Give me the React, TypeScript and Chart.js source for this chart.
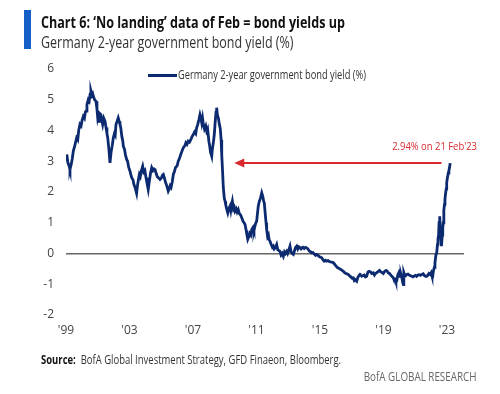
import React, { useEffect, useRef } from "react";
import { Chart, registerables } from "chart.js";

Chart.register(...registerables);

// ---- data ----
const years: number[] = [
  1999.00, 1999.05, 1999.12, 1999.20, 1999.25, 1999.33, 1999.40, 1999.46, 1999.55, 1999.62,
  1999.67, 1999.74, 1999.80, 1999.88, 1999.95, 2000.02, 2000.09, 2000.16, 2000.22, 2000.26,
  2000.32, 2000.40, 2000.46, 2000.52, 2000.57, 2000.63, 2000.68, 2000.72, 2000.80, 2000.89,
  2000.95, 2001.00, 2001.03, 2001.08, 2001.13, 2001.19, 2001.25, 2001.31, 2001.38, 2001.46,
  2001.52, 2001.58, 2001.63, 2001.70, 2001.77, 2001.84, 2001.91, 2001.98, 2002.05, 2002.10,
  2002.15, 2002.22, 2002.29, 2002.35, 2002.40, 2002.45, 2002.52, 2002.58, 2002.61, 2002.68,
  2002.75, 2002.82, 2002.88, 2002.95, 2003.02, 2003.08, 2003.15, 2003.22, 2003.28, 2003.35,
  2003.40, 2003.45, 2003.50, 2003.56, 2003.62, 2003.68, 2003.75, 2003.83, 2003.90, 2003.97,
  2004.04, 2004.10, 2004.18, 2004.25, 2004.32, 2004.40, 2004.48, 2004.55, 2004.61, 2004.68,
  2004.75, 2004.85, 2004.92, 2005.00, 2005.08, 2005.13, 2005.20, 2005.28, 2005.35, 2005.44,
  2005.50, 2005.56, 2005.62, 2005.70, 2005.76, 2005.82, 2005.90, 2006.00, 2006.07, 2006.15,
  2006.25, 2006.32, 2006.39, 2006.48, 2006.55, 2006.62, 2006.70, 2006.78, 2006.86, 2006.94,
  2007.02, 2007.10, 2007.17, 2007.23, 2007.30, 2007.37, 2007.44, 2007.50, 2007.55, 2007.60,
  2007.65, 2007.72, 2007.80, 2007.86, 2007.92, 2008.00, 2008.05, 2008.10, 2008.18, 2008.22,
  2008.28, 2008.34, 2008.40, 2008.45, 2008.49, 2008.54, 2008.60, 2008.66, 2008.72, 2008.77,
  2008.81, 2008.86, 2008.91, 2008.97, 2009.02, 2009.06, 2009.12, 2009.19, 2009.25, 2009.33,
  2009.38, 2009.44, 2009.48, 2009.55, 2009.60, 2009.65, 2009.72, 2009.78, 2009.85, 2009.92,
  2010.00, 2010.07, 2010.15, 2010.22, 2010.28, 2010.35, 2010.40, 2010.45, 2010.52, 2010.58,
  2010.64, 2010.70, 2010.78, 2010.84, 2010.90, 2010.96, 2011.01, 2011.06, 2011.11, 2011.18,
  2011.25, 2011.33, 2011.40, 2011.45, 2011.49, 2011.55, 2011.60, 2011.64, 2011.70, 2011.75,
  2011.79, 2011.85, 2011.92, 2012.00, 2012.06, 2012.12, 2012.20, 2012.27, 2012.34, 2012.40,
  2012.48, 2012.55, 2012.62, 2012.69, 2012.76, 2012.82, 2012.90, 2012.96, 2013.03, 2013.11,
  2013.18, 2013.25, 2013.32, 2013.40, 2013.46, 2013.53, 2013.60, 2013.66, 2013.72, 2013.80,
  2013.85, 2013.92, 2014.00, 2014.08, 2014.16, 2014.24, 2014.32, 2014.40, 2014.48, 2014.56,
  2014.64, 2014.72, 2014.79, 2014.86, 2014.95, 2015.03, 2015.11, 2015.18, 2015.26, 2015.34,
  2015.42, 2015.50, 2015.58, 2015.66, 2015.75, 2015.84, 2015.92, 2016.00, 2016.08, 2016.15,
  2016.23, 2016.31, 2016.39, 2016.47, 2016.55, 2016.63, 2016.70, 2016.78, 2016.86, 2016.94,
  2017.02, 2017.10, 2017.16, 2017.22, 2017.31, 2017.38, 2017.45, 2017.52, 2017.58, 2017.63,
  2017.70, 2017.78, 2017.86, 2017.94, 2018.02, 2018.10, 2018.18, 2018.26, 2018.36, 2018.43,
  2018.50, 2018.58, 2018.67, 2018.75, 2018.83, 2018.91, 2018.99, 2019.08, 2019.16, 2019.24,
  2019.30, 2019.38, 2019.46, 2019.54, 2019.62, 2019.68, 2019.74, 2019.78, 2019.83, 2019.90,
  2019.97, 2020.04, 2020.10, 2020.16, 2020.21, 2020.25, 2020.28, 2020.33, 2020.40, 2020.46,
  2020.54, 2020.62, 2020.70, 2020.78, 2020.86, 2020.94, 2021.02, 2021.09, 2021.17, 2021.25,
  2021.33, 2021.41, 2021.50, 2021.58, 2021.65, 2021.72, 2021.80, 2021.86, 2021.93, 2022.00,
  2022.05, 2022.10, 2022.15, 2022.20, 2022.24, 2022.30, 2022.35, 2022.40, 2022.43, 2022.47,
  2022.50, 2022.54, 2022.57, 2022.61, 2022.65, 2022.70, 2022.73, 2022.76, 2022.80, 2022.84,
  2022.87, 2022.91, 2022.95, 2022.98, 2023.02, 2023.08, 2023.12, 2023.16, 2023.20,
];

const yields: number[] = [
  3.05, 3.22, 2.95, 2.85, 2.73, 2.90, 3.10, 3.33, 3.50, 3.65,
  3.76, 3.70, 4.00, 4.20, 4.15, 4.35, 4.46, 4.40, 4.60, 4.63,
  4.85, 5.00, 4.95, 5.18, 5.28, 5.15, 5.20, 5.12, 5.00, 4.95,
  4.70, 4.40, 4.46, 4.30, 4.55, 4.52, 4.35, 4.20, 4.40, 4.30,
  4.10, 3.90, 3.76, 3.40, 2.95, 3.30, 3.50, 3.76, 3.90, 3.85,
  4.20, 4.30, 4.41, 4.30, 4.20, 4.09, 3.80, 3.65, 3.49, 3.40,
  3.20, 3.06, 3.00, 2.80, 2.70, 2.57, 2.45, 2.40, 2.24, 2.15,
  2.05, 1.97, 2.20, 2.40, 2.57, 2.50, 2.70, 2.84, 2.65, 2.70,
  2.46, 2.30, 2.08, 2.35, 2.60, 2.79, 2.70, 2.75, 2.73, 2.60,
  2.50, 2.45, 2.41, 2.45, 2.55, 2.57, 2.45, 2.30, 2.20, 2.03,
  2.10, 2.20, 2.15, 2.35, 2.57, 2.65, 2.80, 2.85, 3.00, 3.10,
  3.25, 3.35, 3.44, 3.50, 3.60, 3.55, 3.65, 3.62, 3.70, 3.80,
  3.87, 3.95, 3.90, 4.09, 4.20, 4.35, 4.52, 4.40, 4.25, 4.40,
  4.20, 4.05, 4.15, 3.98, 4.05, 3.65, 3.50, 3.30, 3.16, 3.40,
  3.60, 3.87, 4.30, 4.60, 4.74, 4.50, 4.40, 4.20, 4.05, 3.70,
  3.22, 2.70, 2.14, 1.80, 1.70, 1.59, 1.45, 1.32, 1.45, 1.54,
  1.40, 1.60, 1.70, 1.45, 1.50, 1.38, 1.45, 1.35, 1.43, 1.30,
  1.25, 1.16, 1.05, 1.00, 0.94, 0.75, 0.60, 0.46, 0.55, 0.65,
  0.60, 0.78, 0.85, 0.75, 0.89, 1.00, 1.05, 1.30, 1.54, 1.70,
  1.80, 1.97, 1.85, 1.70, 1.65, 1.30, 1.00, 0.78, 0.55, 0.60,
  0.46, 0.40, 0.30, 0.20, 0.24, 0.15, 0.20, 0.29, 0.12, 0.10,
  0.07, -0.05, 0.00, -0.09, 0.05, 0.00, 0.07, 0.00, 0.10, 0.24,
  0.05, 0.00, -0.03, 0.10, 0.20, 0.24, 0.15, 0.22, 0.20, 0.15,
  0.18, 0.20, 0.16, 0.20, 0.18, 0.15, 0.08, 0.06, 0.02, 0.03,
  -0.02, -0.06, -0.03, -0.05, -0.10, -0.12, -0.14, -0.20, -0.25, -0.22,
  -0.25, -0.23, -0.26, -0.27, -0.28, -0.30, -0.35, -0.40, -0.45, -0.47,
  -0.50, -0.52, -0.55, -0.58, -0.62, -0.65, -0.66, -0.68, -0.72, -0.76,
  -0.80, -0.79, -0.88, -0.85, -0.90, -0.78, -0.72, -0.68, -0.70, -0.74,
  -0.72, -0.70, -0.76, -0.74, -0.60, -0.58, -0.60, -0.65, -0.63, -0.70,
  -0.65, -0.62, -0.58, -0.55, -0.60, -0.62, -0.65, -0.58, -0.55, -0.58,
  -0.63, -0.65, -0.70, -0.75, -0.79, -0.88, -0.85, -0.92, -0.90, -0.70,
  -0.62, -0.74, -0.68, -0.80, -0.95, -1.01, -0.62, -0.70, -0.72, -0.68,
  -0.67, -0.70, -0.72, -0.74, -0.76, -0.73, -0.71, -0.74, -0.70, -0.69,
  -0.71, -0.68, -0.66, -0.72, -0.74, -0.74, -0.70, -0.65, -0.68, -0.62,
  -0.72, -0.74, -0.55, -0.45, -0.30, -0.05, 0.02, 0.30, 0.46, 0.60,
  1.00, 1.21, 0.80, 0.50, 0.24, 0.60, 0.80, 1.00, 1.40, 1.60,
  1.76, 1.95, 2.10, 2.30, 2.45, 2.62, 2.70, 2.80, 2.94,
];

const xTickYears: number[] = [1999, 2003, 2007, 2011, 2015, 2019, 2023];
const xTickLabels: string[] = ["'99", "'03", "'07", "'11", "'15", "'19", "'23"];
const yMin = -2;
const yMax = 6;
const xMin = 1999;
const xMax = 2024.07;

const seriesName = "Germany 2-year government bond yield (%)";
const titleText = "Chart 6: \u2018No landing\u2019 data of Feb = bond yields up";
const subtitleText = "Germany 2-year government bond yield (%)";
const latestValue = 2.94;
const latestLabel = "2.94% on 21 Feb'23";
const arrowFromYear = 2022.65;
const arrowToYear = 2009.6;

const FONT = '"Open Sans", sans-serif';
const NAVY = "#0c2a70";
const RED = "#d9292e";

// horizontally squeezed text block (the reference uses a narrow typeface)
function Squeezed(props: { left: number; top: number; scale: number; style: any; children: any; right?: boolean }) {
  return (
    <div
      style={{
        position: "absolute",
        left: props.right ? undefined : props.left,
        right: props.right ? props.left : undefined,
        top: props.top,
        whiteSpace: "nowrap",
        transform: `scaleX(${props.scale})`,
        transformOrigin: props.right ? "right top" : "left top",
        ...props.style,
      }}
    >
      {props.children}
    </div>
  );
}

const arrowPlugin = {
  id: "latestArrow",
  afterDatasetsDraw(chart: any) {
    const { ctx, scales } = chart;
    const x = scales.x;
    const y = scales.y;
    const py = y.getPixelForValue(latestValue);
    const x1 = x.getPixelForValue(arrowFromYear);
    const x2 = x.getPixelForValue(arrowToYear);
    ctx.save();
    ctx.strokeStyle = RED;
    ctx.fillStyle = RED;
    ctx.lineWidth = 2;
    ctx.beginPath();
    ctx.moveTo(x1, py);
    ctx.lineTo(x2 + 8, py);
    ctx.stroke();
    ctx.beginPath();
    ctx.moveTo(x2, py);
    ctx.lineTo(x2 + 10, py - 4.5);
    ctx.lineTo(x2 + 10, py + 4.5);
    ctx.closePath();
    ctx.fill();
    const tx = chart.chartArea.right + 13;
    const ty = py - 16;
    ctx.translate(tx, ty);
    ctx.scale(0.82, 1);
    ctx.font = `11.5px ${FONT}`;
    ctx.textAlign = "right";
    ctx.textBaseline = "middle";
    ctx.fillText(latestLabel, 0, 0);
    ctx.restore();
  },
};

export default function App() {
  const canvasRef = useRef<HTMLCanvasElement | null>(null);

  useEffect(() => {
    if (!canvasRef.current) return;
    const chart = new Chart(canvasRef.current, {
      type: "line",
      data: {
        datasets: [
          {
            label: seriesName,
            data: years.map((yr, i) => ({ x: yr, y: yields[i] })),
            borderColor: NAVY,
            backgroundColor: NAVY,
            borderWidth: 2.8,
            pointRadius: 0,
            tension: 0,
          },
        ],
      },
      options: {
        responsive: false,
        animation: false,
        events: [],
        layout: { padding: { top: 69, left: 36, right: 36, bottom: 55 } },
        plugins: {
          legend: { display: false },
          tooltip: { enabled: false },
          title: { display: false },
        },
        scales: {
          x: {
            type: "linear",
            min: xMin,
            max: xMax,
            grid: { display: false, drawTicks: false },
            border: { display: false },
            afterBuildTicks: (axis: any) => {
              axis.ticks = xTickYears.map((v) => ({ value: v }));
            },
            afterFit: (axis: any) => {
              axis.height = 24;
            },
            ticks: {
              autoSkip: false,
              maxRotation: 0,
              padding: 8,
              color: "#444",
              font: { family: FONT, size: 12 },
              callback: (v: any) => {
                const i = xTickYears.indexOf(Number(v));
                return i >= 0 ? xTickLabels[i] : "";
              },
            },
          },
          y: {
            min: yMin,
            max: yMax,
            grid: {
              drawTicks: false,
              color: (c: any) => (c.tick && c.tick.value === 0 ? "#666" : "rgba(0,0,0,0)"),
              lineWidth: 1.5,
            },
            border: { display: false },
            afterFit: (axis: any) => {
              axis.width = 30;
            },
            ticks: {
              stepSize: 1,
              padding: 12,
              color: "#444",
              font: { family: FONT, size: 12 },
            },
          },
        },
      },
      plugins: [arrowPlugin],
    } as any);
    return () => chart.destroy();
  }, []);

  return (
    <div
      style={{
        position: "fixed",
        left: 0,
        top: 0,
        width: 500,
        height: 394,
        background: "#fff",
        fontFamily: FONT,
        overflow: "hidden",
      }}
    >
      <canvas ref={canvasRef} width={500} height={394} style={{ position: "absolute", left: 0, top: 0 }} />
      <div style={{ position: "absolute", left: 24, top: 10, width: 7, height: 39, background: "#1560c8" }} />
      <Squeezed left={41} top={13} scale={0.785} style={{ fontSize: 16, fontWeight: 700, color: "#111", lineHeight: "18px" }}>
        {titleText}
      </Squeezed>
      <Squeezed left={41} top={33} scale={0.78} style={{ fontSize: 16, color: "#333", lineHeight: "18px" }}>
        {subtitleText}
      </Squeezed>
      <div style={{ position: "absolute", left: 148, top: 74, width: 29, height: 2.5, background: NAVY }} />
      <Squeezed left={178} top={67} scale={0.774} style={{ fontSize: 12, color: "#333", lineHeight: "16px" }}>
        {seriesName}
      </Squeezed>
      <Squeezed left={41} top={352} scale={0.79} style={{ fontSize: 12, color: "#333", lineHeight: "16px" }}>
        <b style={{ color: "#111" }}>Source:</b>&nbsp; BofA Global Investment Strategy, GFD Finaeon, Bloomberg.
      </Squeezed>
      <Squeezed left={24} right top={369} scale={0.82} style={{ fontSize: 12, color: "#666", lineHeight: "16px" }}>
        BofA GLOBAL RESEARCH
      </Squeezed>
    </div>
  );
}
